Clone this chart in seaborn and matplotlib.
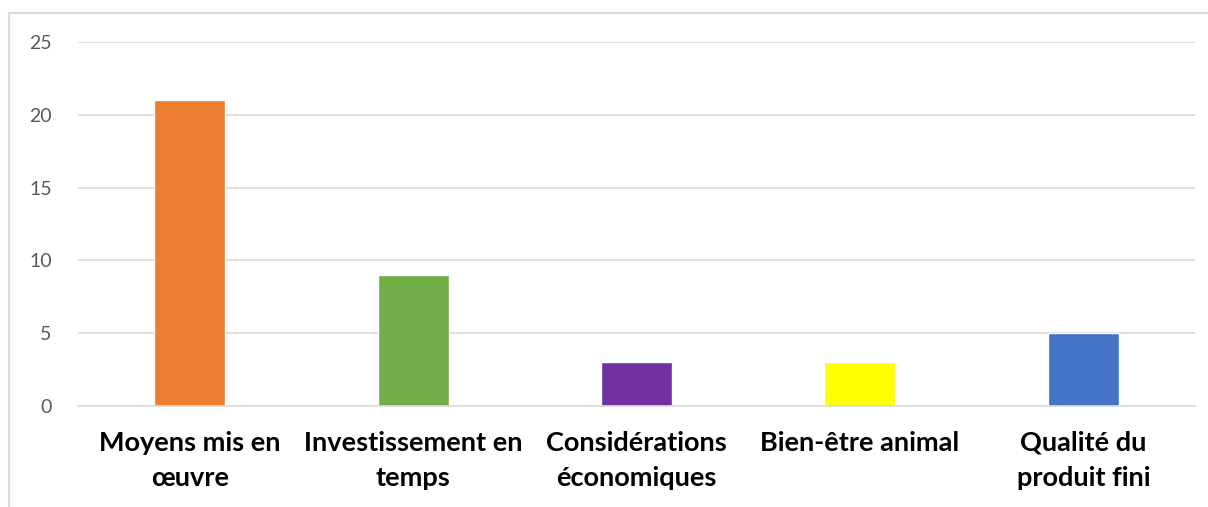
import matplotlib
matplotlib.use('Agg')
import matplotlib.pyplot as plt
import seaborn as sns
import pandas as pd

# Chart data
categories = ['Moyens mis en\nœuvre', 'Investissement en\ntemps', 'Considérations\néconomiques',
              'Bien-être animal', 'Qualité du\nproduit fini']
values = [21, 9, 3, 3, 5]
colors = ['#ED7D31', '#70AD47', '#7030A0', '#FFFF00', '#4472C4']
yticks = [0, 5, 10, 15, 20, 25]

df = pd.DataFrame({'cat': categories, 'val': values})

sns.set_style('white')
plt.rcParams['font.family'] = ['Lato', 'DejaVu Sans']

fig = plt.figure(figsize=(12.08, 5.07), dpi=100)
ax = fig.add_axes([78 / 1208, 1 - 406 / 507, (1195 - 78) / 1208, (406 - 42) / 507])

sns.barplot(data=df, x='cat', y='val', hue='cat', palette=colors, legend=False,
            width=0.318, saturation=1, ax=ax)

ax.set_ylim(0, 25)
ax.set_xlim(-0.5, 4.5)
ax.set_yticks(yticks)
ax.yaxis.grid(True, color='#D9D9D9', linewidth=1.2)
ax.set_axisbelow(True)
for s in ['top', 'right', 'left']:
    ax.spines[s].set_visible(False)
ax.spines['bottom'].set_color('#D9D9D9')
ax.spines['bottom'].set_linewidth(1.2)
ax.tick_params(axis='y', length=0, pad=19, labelsize=14, labelcolor='#595959')
ax.tick_params(axis='x', length=0, pad=18)
ax.set_xlabel('')
ax.set_ylabel('')
for lbl in ax.get_xticklabels():
    lbl.set_fontsize(19.5)
    lbl.set_fontweight('bold')
    lbl.set_color('black')
    lbl.set_linespacing(1.55)

# Chart frame (left and top edges visible)
fig.add_artist(plt.Line2D([9 / 1208, 9 / 1208], [0, 1 - 13 / 507], color='#D9D9D9', linewidth=1.5))
fig.add_artist(plt.Line2D([9 / 1208, 1], [1 - 13 / 507, 1 - 13 / 507], color='#D9D9D9', linewidth=1.5))

plt.savefig('out.png', dpi=100)
